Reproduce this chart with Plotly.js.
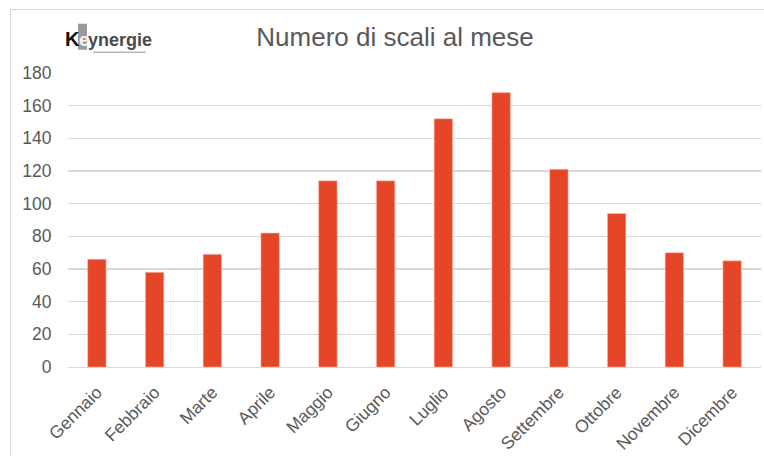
<!DOCTYPE html>
<html>
<head>
<meta charset="utf-8">
<script src="https://cdn.plot.ly/plotly-3.0.1.min.js"></script>
<style>
  html, body { margin: 0; padding: 0; background: #fff; }
  #wrap { position: relative; width: 764px; height: 456px; overflow: hidden; }
  #chart { position: absolute; left: 0; top: 0; width: 764px; height: 456px; }
  #frame { position: absolute; left: 10px; top: 9px; width: 800px; height: 500px;
           border-left: 1px solid #d9d9d9; border-top: 1px solid #d9d9d9; pointer-events: none; }
</style>
</head>
<body>
<div id="wrap">
  <div id="chart"></div>
  <div id="frame"></div>
</div>
<script>
const months = ["Gennaio", "Febbraio", "Marte", "Aprile", "Maggio", "Giugno",
                "Luglio", "Agosto", "Settembre", "Ottobre", "Novembre", "Dicembre"];
const scali = [66, 58, 69, 82, 114, 114, 152, 168, 121, 94, 70, 65];
const yTicks = [0, 20, 40, 60, 80, 100, 120, 140, 160, 180];
const chartTitle = "Numero di scali al mese";

const W = 764, H = 456;
const L = 68, R = 3.4, T = 73.3, B = 88.7;
const pw = W - L - R, ph = H - T - B;
const px = v => (v - L) / pw;
const py = v => (H - B - v) / ph;

const FONT = '"Liberation Sans", Arial, sans-serif';

const trace = {
  type: 'bar',
  x: months,
  y: scali,
  marker: { color: '#e54627', line: { color: 'rgba(255,200,190,0.7)', width: 0.8 } },
  hoverinfo: 'x+y'
};

const layout = {
  width: W, height: H,
  margin: { l: L, r: R, t: T, b: B, pad: 0 },
  paper_bgcolor: 'rgba(0,0,0,0)',
  plot_bgcolor: 'rgba(0,0,0,0)',
  bargap: 0.68,
  showlegend: false,
  font: { family: FONT, color: '#595959' },
  title: {
    text: chartTitle,
    font: { family: FONT, size: 26, color: '#595959' },
    x: 395 / W, xanchor: 'center', xref: 'container',
    y: 1 - 37 / H, yanchor: 'middle', yref: 'container'
  },
  xaxis: {
    type: 'category',
    tickangle: -45,
    tickfont: { family: FONT, size: 17.5, color: '#595959' },
    showgrid: false,
    showline: true, linecolor: '#d9d9d9', linewidth: 1.3,
    ticks: 'outside', ticklen: 7, tickcolor: 'rgba(0,0,0,0)',
    zeroline: false,
    automargin: false
  },
  yaxis: {
    range: [0, 180],
    tickvals: yTicks,
    ticktext: yTicks.map(String),
    tickfont: { family: FONT, size: 17.5, color: '#595959' },
    showgrid: true, gridcolor: '#d9d9d9', gridwidth: 1.2,
    zeroline: false, showline: false,
    ticks: 'outside', ticklen: 12, tickcolor: 'rgba(0,0,0,0)',
    automargin: false
  },
  shapes: [
    { type: 'rect', xref: 'paper', yref: 'paper', layer: 'below',
      x0: px(78), x1: px(87), y0: py(50), y1: py(24),
      fillcolor: '#9a9a9a', line: { width: 0 } },
    { type: 'line', xref: 'paper', yref: 'paper',
      x0: px(93), x1: px(146), y0: py(52.5), y1: py(52.5),
      line: { color: '#b8b8b8', width: 1.6 } }
  ],
  annotations: [
    { text: '<b>K</b>', xref: 'paper', yref: 'paper', x: px(63.5), y: py(39.5),
      xanchor: 'left', yanchor: 'middle', showarrow: false,
      font: { family: FONT, size: 20, color: '#111111' } },
    { text: '<b>e</b>', xref: 'paper', yref: 'paper', x: px(77), y: py(40.5),
      xanchor: 'left', yanchor: 'middle', showarrow: false,
      font: { family: FONT, size: 18, color: '#f2f2f2' } },
    { text: '<b>ynergie</b>', xref: 'paper', yref: 'paper', x: px(86), y: py(40.5),
      xanchor: 'left', yanchor: 'middle', showarrow: false,
      font: { family: FONT, size: 18, color: '#4a4a4a' } }
  ]
};

Plotly.newPlot('chart', [trace], layout, { displayModeBar: false, staticPlot: true });
</script>
</body>
</html>
